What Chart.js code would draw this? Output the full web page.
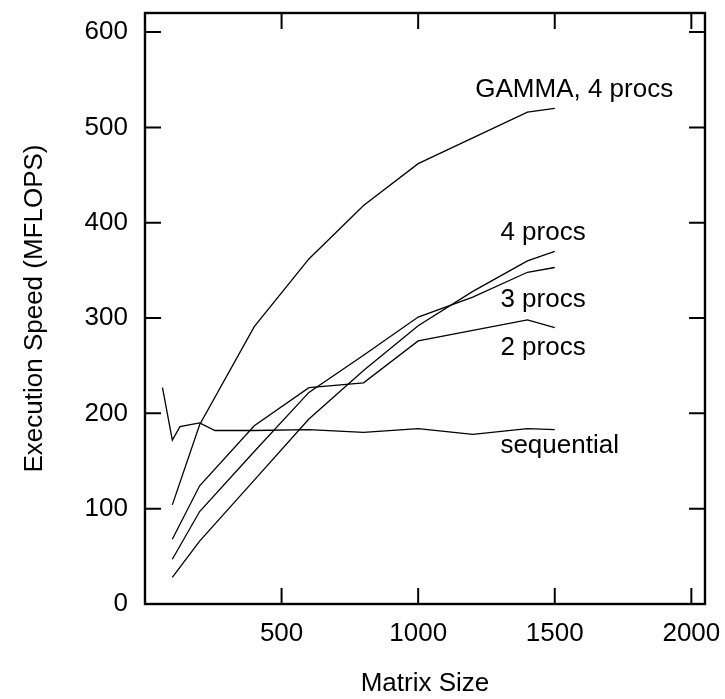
<!DOCTYPE html>
<html>
<head>
<meta charset="utf-8">
<title>Execution Speed vs Matrix Size</title>
<script src="https://cdn.jsdelivr.net/npm/chart.js@4.4.0/dist/chart.umd.min.js"></script>
<style>
    html, body { margin: 0; padding: 0; background: #fff; }
    #wrap { width: 725px; height: 699px; }
</style>
</head>
<body>
<div id="wrap"><canvas id="speedChart"></canvas></div>
<script>
// Data
const sizes = [100, 200, 400, 600, 800, 1000, 1200, 1400, 1500];
const gamma4 = [104, 188, 291, 362, 418, 462, 489, 516, 520];
const procs4 = [28, 66, 130, 194, 245, 292, 328, 360, 370];
const procs3 = [47, 97, 160, 222, 261, 301, 322, 348, 353];
const procs2 = [68, 124, 187, 227, 232, 276, 287, 298, 290];

const seqSizes = [64, 100, 128, 200, 256, 400, 600, 800, 1000, 1200, 1400, 1500];
const sequential = [227, 172, 186, 190, 182, 182, 183, 180, 184, 178, 184, 183];

const xTicks = [500, 1000, 1500, 2000];
const yTicks = [0, 100, 200, 300, 400, 500, 600];

// Curve labels: text, left edge (matrix size), vertical centre (MFLOPS)
const labelText = ['GAMMA, 4 procs', '4 procs', '3 procs', '2 procs', 'sequential'];
const labelX = [1209, 1301, 1301, 1301, 1301];
const labelY = [539, 389, 319, 269, 166];

const FONT = "'Liberation Sans', Arial, Helvetica, sans-serif";
const FONT_SIZE = 26;

const toPoints = (xs, ys) => xs.map((x, i) => ({ x: x, y: ys[i] }));

const lineStyle = {
    borderColor: '#000',
    borderWidth: 1.3,
    pointRadius: 0,
    fill: false,
    tension: 0
};

// frame with inward ticks on all four sides, plus curve labels
const framePlugin = {
    id: 'frame',
    afterDatasetsDraw(chart) {
        const ctx = chart.ctx;
        const { left, right, top, bottom } = chart.chartArea;
        const xs = chart.scales.x;
        const ys = chart.scales.y;
        const tick = 16;

        ctx.save();
        ctx.strokeStyle = '#000';
        ctx.lineWidth = 2.4;
        ctx.strokeRect(left, top, right - left, bottom - top);

        ctx.beginPath();
        xTicks.forEach(v => {
            const px = xs.getPixelForValue(v);
            ctx.moveTo(px, bottom);
            ctx.lineTo(px, bottom - tick);
            ctx.moveTo(px, top);
            ctx.lineTo(px, top + tick);
        });
        yTicks.forEach(v => {
            const py = ys.getPixelForValue(v);
            ctx.moveTo(left, py);
            ctx.lineTo(left + tick, py);
            ctx.moveTo(right, py);
            ctx.lineTo(right - tick, py);
        });
        ctx.lineWidth = 2;
        ctx.stroke();

        ctx.fillStyle = '#000';
        ctx.font = FONT_SIZE + 'px ' + FONT;
        ctx.textAlign = 'left';
        ctx.textBaseline = 'middle';
        labelText.forEach((t, i) => {
            ctx.fillText(t, xs.getPixelForValue(labelX[i]), ys.getPixelForValue(labelY[i]));
        });
        ctx.restore();
    }
};

new Chart(document.getElementById('speedChart'), {
    type: 'line',
    data: {
        datasets: [
            { label: 'GAMMA, 4 procs', data: toPoints(sizes, gamma4), ...lineStyle },
            { label: '4 procs', data: toPoints(sizes, procs4), ...lineStyle },
            { label: '3 procs', data: toPoints(sizes, procs3), ...lineStyle },
            { label: '2 procs', data: toPoints(sizes, procs2), ...lineStyle },
            { label: 'sequential', data: toPoints(seqSizes, sequential), ...lineStyle }
        ]
    },
    options: {
        responsive: true,
        maintainAspectRatio: false,
        animation: false,
        layout: {
            padding: { top: 13, right: 20, left: 0, bottom: 0 }
        },
        plugins: {
            legend: { display: false },
            tooltip: { enabled: false }
        },
        scales: {
            x: {
                type: 'linear',
                min: 0,
                max: 2050,
                grid: { display: false, drawTicks: false },
                border: { display: false },
                afterBuildTicks: scale => {
                    scale.ticks = xTicks.map(v => ({ value: v }));
                },
                afterFit: scale => {
                    scale.height = 95;
                    scale.paddingLeft = 0;
                    scale.paddingRight = 0;
                },
                ticks: {
                    color: '#000',
                    padding: 14,
                    maxRotation: 0,
                    callback: v => String(v),
                    font: { family: FONT, size: FONT_SIZE }
                },
                title: {
                    display: true,
                    text: 'Matrix Size',
                    color: '#000',
                    padding: { top: 0, bottom: 0 },
                    font: { family: FONT, size: FONT_SIZE }
                }
            },
            y: {
                min: 0,
                max: 620,
                grid: { display: false, drawTicks: false },
                border: { display: false },
                afterBuildTicks: scale => {
                    scale.ticks = yTicks.map(v => ({ value: v }));
                },
                afterFit: scale => {
                    scale.width = 145;
                    scale.paddingTop = 0;
                    scale.paddingBottom = 0;
                },
                ticks: {
                    color: '#000',
                    padding: 17,
                    callback: v => String(v),
                    font: { family: FONT, size: FONT_SIZE }
                },
                title: {
                    display: true,
                    text: 'Execution Speed (MFLOPS)',
                    color: '#000',
                    padding: { top: 19, bottom: 19 },
                    font: { family: FONT, size: FONT_SIZE }
                }
            }
        }
    },
    plugins: [framePlugin]
});
</script>
</body>
</html>
